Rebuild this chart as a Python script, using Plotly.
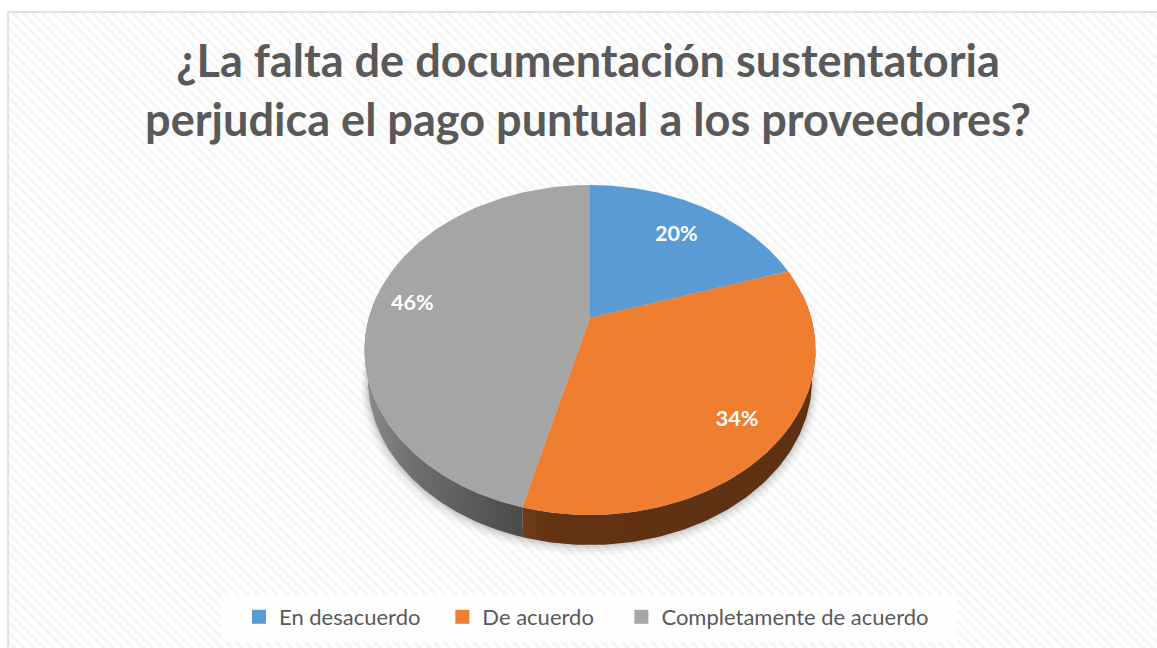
import numpy as np
import plotly.graph_objects as go

title_lines = ["¿La falta de documentación sustentatoria", "perjudica el pago puntual a los proveedores?"]
categories = ["En desacuerdo", "De acuerdo", "Completamente de acuerdo"]
values = [20, 34, 46]
colors = ["#5b9bd5", "#ef7e31", "#a5a5a5"]
label_radius = [0.77, 0.79, 0.83]
legend_trailing_spaces = [3, 4, 0]

W, H = 1157, 648
CX, CY, RX, RY = 590, 350, 225.5, 165
DEPTH, BOTTOM_RX = 30, 222
PERSPECTIVE = 0.82
LABEL_DY = 3.5


def persp(theta):
    """Slice angle (clockwise from top, radians) to the angle on the tilted rim."""
    return 2 * np.arctan2(PERSPECTIVE * np.sin(theta / 2), np.cos(theta / 2))


def rim(theta, rx=RX, dy=0):
    t = persp(theta)
    return CX + rx * np.sin(t), CY + dy - RY * np.cos(t)


def arc(a, b, n=120):
    return np.linspace(a, b, n)


APEX = (CX, CY - RY * np.cos(persp(np.pi / 2)))
shares = np.array(values) / sum(values)
edges = np.concatenate([[0], np.cumsum(shares)]) * 2 * np.pi

fig = go.Figure()

# hatched chart background
fig.add_trace(go.Bar(x=[(8 + W + 4) / 2], y=[H - 12], base=[12], width=[W + 4 - 8],
                     marker=dict(color="white", line_width=0,
                                 pattern=dict(shape="\\", fgcolor="#eeeeee", bgcolor="white",
                                              size=7, solidity=0.45)),
                     showlegend=False, hoverinfo="skip"))

# soft shadow
tt = np.linspace(0, 2 * np.pi, 200)
for grow, alpha in [(7, 0.03), (5, 0.04), (3, 0.05), (1.5, 0.06)]:
    fig.add_trace(go.Scatter(x=CX + (BOTTOM_RX + grow) * np.sin(tt),
                             y=CY + DEPTH + grow * 0.8 - (RY + grow * 0.6) * np.cos(tt),
                             mode="lines", line_width=0, fill="toself",
                             fillcolor=f"rgba(0,0,0,{alpha})", showlegend=False, hoverinfo="skip"))

# side walls (orange slice and grey slice are the ones facing the viewer)
front_start = np.pi * 0.45
side_specs = [
    (1, max(edges[1], front_start), edges[2],
     [[0, "#6f3c17"], [0.1, "#623213"], [1, "#5f3012"]]),
    (2, edges[2], np.pi * 1.55,
     [[0, "#8c8c8c"], [0.3, "#6f6f6f"], [1, "#4a4a4a"]]),
]
for i, a, b, scale in side_specs:
    th = arc(a, b)
    x1, y1 = rim(th)
    x2, y2 = rim(th, BOTTOM_RX, DEPTH)
    fig.add_trace(go.Scatter(x=np.concatenate([x1, x2[::-1]]), y=np.concatenate([y1, y2[::-1]]),
                             mode="lines", line_width=0, fill="toself",
                             fillgradient=dict(type="horizontal", colorscale=scale),
                             fillcolor=colors[i], legendgroup=categories[i], showlegend=False,
                             hoverinfo="skip"))

# top face
for i, name in enumerate(categories):
    th = arc(edges[i], edges[i + 1])
    x, y = rim(th)
    fig.add_trace(go.Scatter(x=np.concatenate([[APEX[0]], x, [APEX[0]]]),
                             y=np.concatenate([[APEX[1]], y, [APEX[1]]]),
                             mode="lines", line_width=0, fill="toself", fillcolor=colors[i],
                             name=name, legendgroup=name, showlegend=False,
                             text=f"{name}: {values[i]}%", hoverinfo="text"))

# percentage labels
mids = (edges[:-1] + edges[1:]) / 2
lx, ly = [], []
for m, f in zip(mids, label_radius):
    ex, ey = rim(m)
    lx.append(APEX[0] + f * (ex - APEX[0]))
    ly.append(APEX[1] + f * (ey - APEX[1]) + LABEL_DY)
fig.add_trace(go.Scatter(x=lx, y=ly, mode="text", text=[f"{v}%" for v in values],
                         textfont=dict(family="Lato", size=21.5, color="white", weight="bold"),
                         showlegend=False, hoverinfo="skip"))

# legend entries
for i, name in enumerate(categories):
    fig.add_trace(go.Scatter(x=[None], y=[None], mode="markers",
                             name=name + "\u00a0" * legend_trailing_spaces[i], legendgroup=name,
                             marker=dict(symbol="square", size=14, color=colors[i])))

fig.update_layout(
    width=W, height=H, margin=dict(l=0, r=0, t=0, b=0), autosize=False,
    paper_bgcolor="white", plot_bgcolor="white", bargap=0,
    xaxis=dict(range=[0, W], visible=False, fixedrange=True),
    yaxis=dict(range=[H, 0], visible=False, fixedrange=True),
    title=dict(text="<br>".join(title_lines), x=588 / W, xanchor="center", y=1 - 77 / H,
               yanchor="middle",
               font=dict(family="Lato", size=45.1, color="#595959", weight="bold")),
    legend=dict(orientation="h", x=239 / W, xanchor="left", y=1 - 596 / H, yanchor="top",
                itemwidth=30, font=dict(family="Lato", size=22, color="#595959"),
                bgcolor="rgba(0,0,0,0)", traceorder="normal"),
    shapes=[
        dict(type="rect", xref="x", yref="y", x0=8, x1=W + 5, y0=12, y1=H + 5,
             line=dict(color="#d9d9d9", width=1.5), layer="above"),
        dict(type="rect", xref="x", yref="y", x0=221, x1=957, y0=595, y1=642,
             fillcolor="rgba(255,255,255,0.85)", line_width=0, layer="above"),
    ],
)
fig.write_html("out.html", config={"displayModeBar": False},
               post_script="document.body.style.margin='0';document.body.style.overflow='hidden';")
